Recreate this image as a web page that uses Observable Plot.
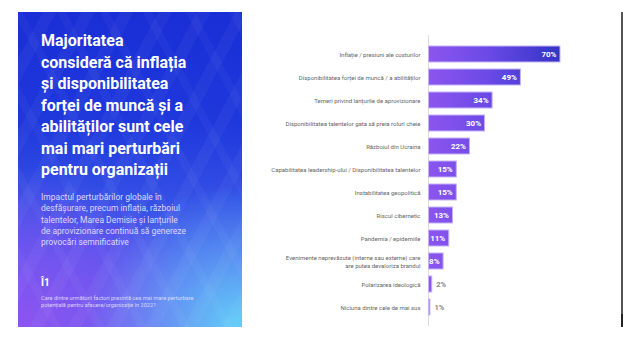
<!DOCTYPE html>
<html>
<head>
<meta charset="utf-8">
<script src="https://cdn.jsdelivr.net/npm/d3@7"></script>
<script src="https://cdn.jsdelivr.net/npm/@observablehq/plot@0.6"></script>
<style>
  html, body { margin: 0; padding: 0; background: #fff; }
  #wrap { position: relative; width: 637px; height: 360px; overflow: hidden; font-family: Roboto, "Noto Sans", sans-serif; }
  #panel {
    position: absolute; left: 18px; top: 12px; width: 224px; height: 315px; overflow: hidden;
    background:
      repeating-linear-gradient(118deg, rgba(255,255,255,0.0) 0px, rgba(255,255,255,0.0) 22px, rgba(255,255,255,0.035) 22px, rgba(255,255,255,0.035) 34px),
      repeating-linear-gradient(62deg, rgba(255,255,255,0.0) 0px, rgba(255,255,255,0.0) 30px, rgba(255,255,255,0.03) 30px, rgba(255,255,255,0.03) 38px),
      radial-gradient(ellipse 70% 45% at 100% 100%, rgba(96,214,248,0.95) 0%, rgba(96,214,248,0.5) 45%, rgba(96,214,248,0) 100%),
      radial-gradient(ellipse 80% 50% at 0% 100%, rgba(140,84,240,1) 0%, rgba(130,84,240,0.6) 50%, rgba(130,84,240,0) 100%),
      linear-gradient(to bottom, #1a2ed6 0%, #1e38dc 35%, #3550e6 60%, #5a58ee 85%, #6a5af0 100%);
  }
  #panel .t { position: absolute; left: 23px; color: #fff; white-space: nowrap; }
  #title { top: 18px; font-size: 16px; font-weight: 700; line-height: 21.5px; }
  #sub { top: 180px; font-size: 8.5px; line-height: 11.3px; color: #dcd8ff !important; }
  #logo { top: 265px; font-size: 10px; font-weight: 700; line-height: 12px; }
  #cap { top: 283px; font-size: 5.6px; line-height: 7px; color: rgba(235,232,255,0.85) !important; }
  #chart { position: absolute; left: 242px; top: 0; }
  #border { position: absolute; left: 621px; top: 12px; width: 1.5px; height: 315px; background: #555; }
  #border2 { position: absolute; left: 621px; top: 314px; width: 2px; height: 13px; background: #222; }
</style>
</head>
<body>
<div id="wrap">
  <div id="panel">
    <div class="t" id="title">Majoritatea<br>consideră că inflația<br>și disponibilitatea<br>forței de muncă și a<br>abilităților sunt cele<br>mai mari perturbări<br>pentru organizații</div>
    <div class="t" id="sub">Impactul perturbărilor globale în<br>desfășurare, precum inflația, războiul<br>talentelor, Marea Demisie și lanțurile<br>de aprovizionare continuă să genereze<br>provocări semnificative</div>
    <div class="t" id="logo">Î1</div>
    <div class="t" id="cap">Care dintre următorii factori prezintă cea mai mare perturbare<br>potențială pentru afacere/organizație în 2022?</div>
  </div>
  <div id="chart"></div>
  <div id="border"></div>
  <div id="border2"></div>
</div>
<script>
const categories = [
  "Inflație / presiuni ale costurilor",
  "Disponibilitatea forței de muncă / a abilităților",
  "Temeri privind lanțurile de aprovizionare",
  "Disponibilitatea talentelor gata să preia roluri cheie",
  "Războiul din Ucraina",
  "Capabilitatea leadership-ului / Disponibilitatea talentelor",
  "Instabilitatea geopolitică",
  "Riscul cibernetic",
  "Pandemia / epidemiile",
  "Evenimente neprevăzute (interne sau externe) care\nare putea devaloriza brandul",
  "Polarizarea ideologică",
  "Niciuna dintre cele de mai sus"
];
const values = [70, 49, 34, 30, 22, 15, 15, 13, 11, 8, 2, 1];
const valueLabels = ["70%", "49%", "34%", "30%", "22%", "15%", "15%", "13%", "11%", "8%", "2%", "1%"];

const data = categories.map((c, i) => ({cat: c, v: values[i], label: valueLabels[i]}));
const inside = data.filter(d => d.v >= 5);
const outside = data.filter(d => d.v < 5);

const W = 395, ML = 186, MR = 77;
const plot = Plot.plot({
  width: W,
  height: 360,
  marginLeft: ML,
  marginRight: MR,
  marginTop: 35,
  marginBottom: 34,
  style: {fontFamily: "Roboto, 'Noto Sans', sans-serif", background: "transparent"},
  x: {domain: [0, 70], axis: null},
  y: {domain: categories, padding: 0.32, axis: null},
  marks: [
    Plot.ruleX([0], {stroke: "#dddddd", strokeWidth: 1}),
    Plot.barX(data, {x: "v", y: "cat", fill: "url(#barGrad)", stroke: "#c4b2f7", strokeWidth: 1, insetLeft: 0.5}),
    Plot.axisY({label: null, tickSize: 0, tickPadding: 8, fontSize: 6, color: "#666", lineHeight: 1.25}),
    Plot.text(inside, {x: "v", y: "cat", text: "label", textAnchor: "end", dx: -4, fill: "white", fontWeight: "bold", fontSize: 8}),
    Plot.text(outside, {x: "v", y: "cat", text: "label", textAnchor: "start", dx: 4, fill: "#888", fontWeight: "bold", fontSize: 7.5})
  ]
});

const svg = d3.select(plot);
const defs = svg.insert("defs", ":first-child");
const g = defs.append("linearGradient").attr("id", "barGrad")
  .attr("gradientUnits", "userSpaceOnUse")
  .attr("x1", ML).attr("x2", W - MR).attr("y1", 0).attr("y2", 0);
g.append("stop").attr("offset", "0%").attr("stop-color", "#8c55ef");
g.append("stop").attr("offset", "45%").attr("stop-color", "#6b4ae6");
g.append("stop").attr("offset", "100%").attr("stop-color", "#3334c6");

document.getElementById("chart").appendChild(plot);
</script>
</body>
</html>
